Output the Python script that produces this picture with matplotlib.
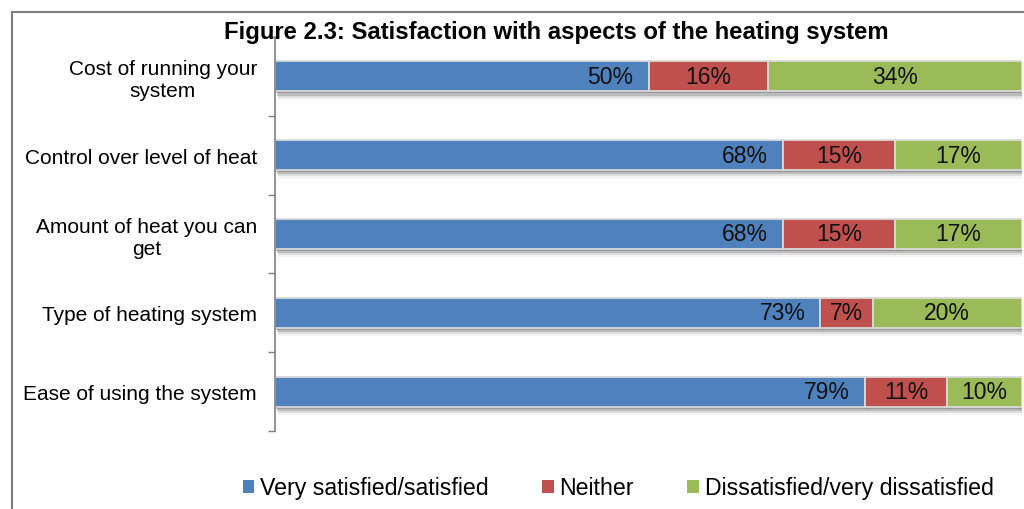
import matplotlib
matplotlib.use("Agg")
import matplotlib.pyplot as plt
import matplotlib.patheffects as pe
from matplotlib.lines import Line2D
from matplotlib.patches import Patch

plt.rcParams['font.family'] = ['Liberation Sans', 'DejaVu Sans']

categories = ["Cost of running your\nsystem", "Control over level of heat",
              "Amount of heat you can\nget", "Type of heating system",
              "Ease of using the system"]
satisfied = [50, 68, 68, 73, 79]
neither = [16, 15, 15, 7, 11]
dissatisfied = [34, 17, 17, 20, 10]
series_names = ["Very satisfied/satisfied", "Neither", "Dissatisfied/very dissatisfied"]
colors = ["#4F81BD", "#C0504D", "#9BBB59"]

W, H = 1024, 510
fig = plt.figure(figsize=(W / 100, H / 100), dpi=100)
ax = fig.add_axes([275 / W, 1 - 432 / H, (1022 - 275) / W, (432 - 38) / H])

ypos = list(range(len(categories)))
shadow = [pe.SimplePatchShadow(offset=(1.0, -1.5), shadow_rgbFace='#444444', alpha=0.35),
          pe.SimplePatchShadow(offset=(1.5, -3.0), shadow_rgbFace='#555555', alpha=0.28),
          pe.SimplePatchShadow(offset=(2.0, -4.5), shadow_rgbFace='#777777', alpha=0.18),
          pe.SimplePatchShadow(offset=(2.5, -6.0), shadow_rgbFace='#999999', alpha=0.10),
          pe.Normal()]
left = [0] * len(categories)
for vals, col, name in zip([satisfied, neither, dissatisfied], colors, series_names):
    bars = ax.barh(ypos, vals, left=left, height=0.38, color=col, edgecolor='#d9d9d9',
                   linewidth=1.3, label=name)
    for b in bars:
        b.set_path_effects(shadow)
    for i, (v, l) in enumerate(zip(vals, left)):
        if col == colors[0]:
            ax.text(l + v - 2.0, i, f"{v}%", ha='right', va='center', fontsize=16.5, color='#111111')
        else:
            ax.text(l + v / 2, i, f"{v}%", ha='center', va='center', fontsize=16.5, color='#111111')
    left = [a + b for a, b in zip(left, vals)]

ax.set_xlim(0, 100)
ax.set_ylim(len(categories) - 0.5, -0.5)
ax.set_yticks(ypos)
ax.set_yticklabels(categories, fontsize=15.0, multialignment='center')
ax.set_yticks([i - 0.5 for i in range(len(categories) + 1)], minor=True)
ax.tick_params(axis='y', which='major', length=0, pad=13)
ax.tick_params(axis='y', which='minor', length=5, color='#808080', width=1)
ax.set_xticks([])
for s in ['top', 'right', 'bottom']:
    ax.spines[s].set_visible(False)
ax.spines['left'].set_color('#808080')
ax.spines['left'].set_linewidth(1.2)

fig.text(556 / W, 1 - 32 / H, "Figure 2.3: Satisfaction with aspects of the heating system",
         ha='center', va='center', fontsize=17.2, fontweight='bold')

handles = [Patch(facecolor=c, edgecolor='none') for c in colors]
fig.legend(handles, series_names, loc='center', bbox_to_anchor=(618 / W, 1 - 489 / H),
           ncol=3, frameon=False, fontsize=16.7, handlelength=0.5, handleheight=0.5,
           handletextpad=0.25, columnspacing=2.3)

# outer frame (left and top edges visible)
fig.add_artist(Line2D([12 / W, 12 / W], [0, 1 - 13 / H], transform=fig.transFigure, color='#7f7f7f', lw=1.5))
fig.add_artist(Line2D([12 / W, 1], [1 - 13 / H, 1 - 13 / H], transform=fig.transFigure, color='#7f7f7f', lw=1.5))

fig.savefig("out.png", dpi=100)
